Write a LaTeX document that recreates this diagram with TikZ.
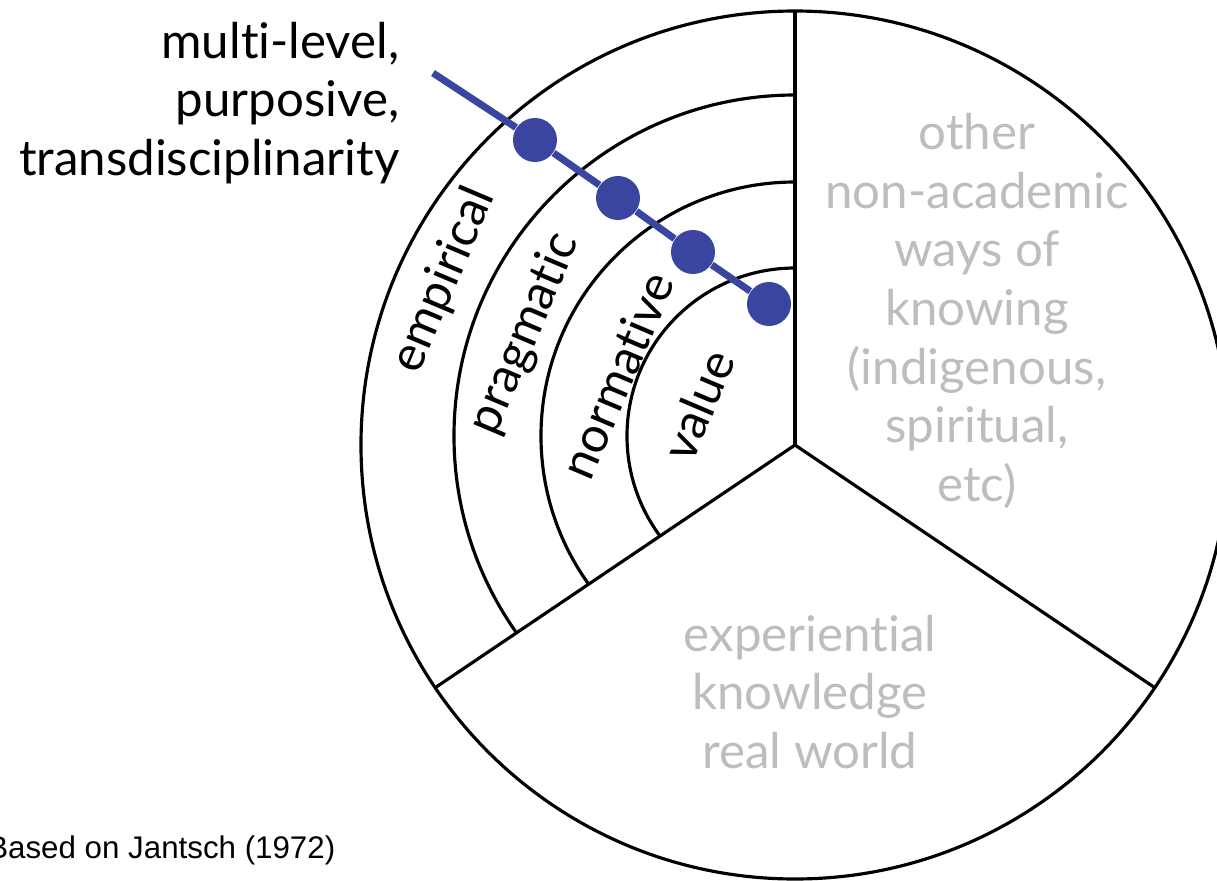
\documentclass[tikz,border=0pt]{standalone}
\usepackage{fontspec}
\setmainfont{Lato}[Ligatures={NoCommon,NoRare},RawFeature=-liga]
\newfontfamily\arialfont{Liberation Sans}
\definecolor{linkblue}{HTML}{3A45A0}
\definecolor{softgray}{HTML}{BDBDBD}
\tikzset{
  ring/.style={line width=0.9pt},
  level/.style={font=\fontsize{14}{16.7}\selectfont, rotate=67, inner sep=0pt},
  lightlabel/.style={text=softgray, align=center, font=\fontsize{14}{16.7}\selectfont, inner sep=0pt},
  dot/.style={circle, fill=linkblue, minimum size=0.44cm, inner sep=0pt},
  link/.style={linkblue, line width=2pt}
}

\begin{document}
\begin{tikzpicture}[x=0.01cm,y=0.01cm]
\clip (-795,-436) rectangle (422,445);
\coordinate (hub) at (0,0);
% outer disc and the three sectors
\draw[ring,fill=white] (hub) circle (434);
\begin{scope}
\clip (hub) -- (90:500) -- (150:700) -- (214:500) -- cycle;
\draw[ring] (0,9) circle (341);
\draw[ring] (0,9) circle (254);
\draw[ring] (0,9) circle (168);
\end{scope}
\draw[ring] (hub) -- (90:434);
\draw[ring] (hub) -- (214:434);
\draw[ring] (hub) -- (-34:434);
% levels inside the academic sector
\node[level] (empirical) at (-351,165) {empirical};
\node[level] (pragmatic) at (-270,111) {pragmatic};
\node[level] (normative) at (-178,70) {normative};
\node[level] (value) at (-97,40) {value};
% the other two sectors
\node[lightlabel] (other) at (182,134) {other\\non-academic\\ways of\\knowing\\(indigenous,\\spiritual,\\etc)};
\node[lightlabel] (experiential) at (15,-247) {experiential\\knowledge\\real world};
% transdisciplinary axis
\coordinate (tip) at (-362,372);
\node[dot] (d1) at (-260,305) {};
\node[dot] (d2) at (-177,247) {};
\node[dot] (d3) at (-102,193) {};
\node[dot] (d4) at (-26,141) {};
\draw[link] (tip) -- (d1) -- (d2) -- (d3) -- (d4);
\node[align=right, anchor=east, inner sep=0pt, font=\fontsize{14}{16.7}\selectfont] (axis) at (-395,342) {multi-level,\\purposive,\\transdisciplinarity};
\node[anchor=base east, inner sep=0pt, font=\arialfont\fontsize{8.9}{11}\selectfont] (source) at (-459,-413) {Based on Jantsch (1972)};
\end{tikzpicture}
\end{document}
